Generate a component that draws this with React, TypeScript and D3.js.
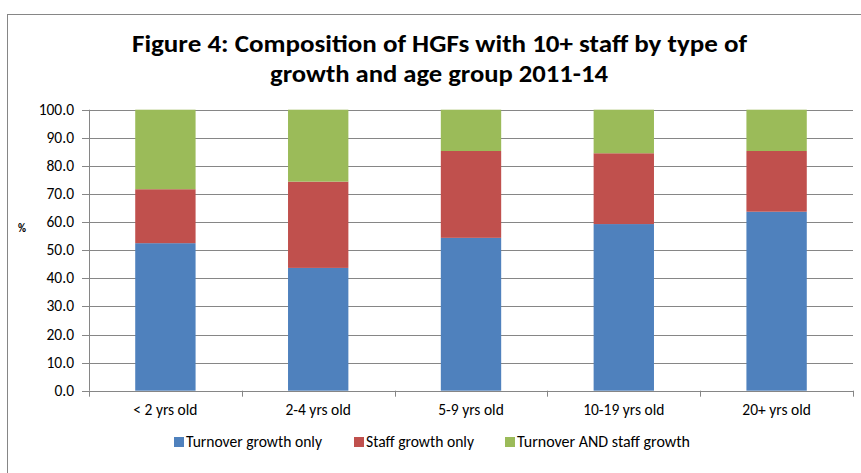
import React from "react";
import { scaleLinear, scaleBand, stack } from "d3";

const categories = ["< 2 yrs old", "2-4 yrs old", "5-9 yrs old", "10-19 yrs old", "20+ yrs old"];
const turnoverOnly = [52.5, 43.7, 54.4, 59.3, 63.7];
const staffOnly = [19.2, 30.7, 30.9, 25.2, 21.6];
const bothGrowth = [28.3, 25.6, 14.7, 15.5, 14.7];
const seriesNames = ["Turnover growth only", "Staff growth only", "Turnover AND staff growth"];
const colors = ["#4F81BD", "#C0504D", "#9BBB59"];
const yTicks = [0, 10, 20, 30, 40, 50, 60, 70, 80, 90, 100];

const W = 861;
const H = 473;
const left = 89;
const right = 853;
const top = 109.7;
const bottom = 390.7;
const font = "Calibri, Carlito, Lato, 'Open Sans', sans-serif";

export default function App() {
  const rows = categories.map((c, i) => ({
    cat: c,
    s0: turnoverOnly[i],
    s1: staffOnly[i],
    s2: bothGrowth[i],
  }));
  const layers = stack<any>().keys(["s0", "s1", "s2"])(rows);

  const x = scaleBand().domain(categories).range([left, right]).paddingInner(0);
  const y = scaleLinear().domain([0, 100]).range([bottom, top]);
  const bw = x.bandwidth() * 0.395;

  // legend swatch x and text widths
  const legendX = [174, 354, 505];
  const legendW = [136, 108, 173];

  return (
    <svg width={W} height={H} style={{ position: "absolute", left: 0, top: 0 }}>
      <rect x={0} y={0} width={W} height={H} fill="#fff" />
      <rect x={7.5} y={14.5} width={900} height={500} fill="none" stroke="#868686" strokeWidth={1} />

      <g fontFamily={font} fontWeight="bold" fontSize={25} textAnchor="middle" fill="#000">
        <text x={439.5} y={52} textLength={615} lengthAdjust="spacingAndGlyphs">
          Figure 4: Composition of HGFs with 10+ staff by type of
        </text>
        <text x={439} y={81.5} textLength={338} lengthAdjust="spacingAndGlyphs">
          growth and age group 2011-14
        </text>
      </g>

      {/* gridlines */}
      {yTicks.map((t) => (
        <line key={t} x1={left - 7} x2={right} y1={Math.round(y(t)) + 0.5} y2={Math.round(y(t)) + 0.5} stroke="#868686" strokeWidth={1} />
      ))}
      {yTicks.map((t) => (
        <text key={"l" + t} x={74} y={y(t) + 5} textAnchor="end" fontFamily={font} fontSize={15.5} fill="#000">
          {t.toFixed(1)}
        </text>
      ))}
      <text x={22} y={232} textAnchor="middle" fontFamily={font} fontSize={11} fontWeight="bold">%</text>

      {/* bars */}
      {layers.map((layer, li) => (
        <g key={li} fill={colors[li]}>
          {layer.map((d: any, i) => (
            <rect
              key={i}
              x={(x(categories[i]) as number) + x.bandwidth() / 2 - bw / 2}
              y={y(d[1])}
              width={bw}
              height={y(d[0]) - y(d[1])}
            />
          ))}
        </g>
      ))}

      {/* axes lines */}
      <line x1={left + 0.5} x2={left + 0.5} y1={top} y2={bottom} stroke="#868686" />
      <line x1={left} x2={right} y1={Math.round(bottom) + 0.5} y2={Math.round(bottom) + 0.5} stroke="#868686" />
      {[...categories.map((c) => x(c) as number), right].map((px, i) => (
        <line key={"t" + i} x1={Math.round(px) + 0.5} x2={Math.round(px) + 0.5} y1={bottom} y2={bottom + 6} stroke="#868686" />
      ))}

      {categories.map((c) => (
        <text key={c} x={(x(c) as number) + x.bandwidth() / 2} y={415} textAnchor="middle" fontFamily={font} fontSize={15.5}>
          {c}
        </text>
      ))}

      {/* legend */}
      {seriesNames.map((n, i) => (
        <g key={n}>
          <rect x={legendX[i]} y={437} width={10} height={10} fill={colors[i]} />
          <text x={legendX[i] + 12} y={447} fontFamily={font} fontSize={15.5} textLength={legendW[i]} lengthAdjust="spacingAndGlyphs">
            {n}
          </text>
        </g>
      ))}
    </svg>
  );
}
